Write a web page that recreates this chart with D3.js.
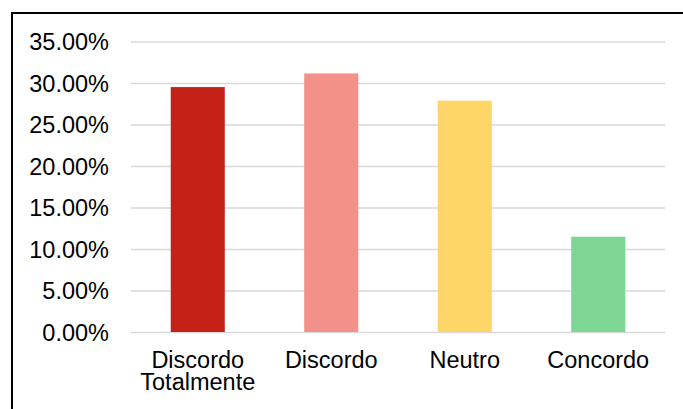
<!DOCTYPE html>
<html>
<head>
<meta charset="utf-8">
<script src="https://cdn.jsdelivr.net/npm/d3@7"></script>
<style>
  body { margin: 0; background: #fff; }
  svg { display: block; font-family: "Liberation Sans", Arial, sans-serif; }
</style>
</head>
<body>
<div id="chart"></div>
<script>
const categories = ["Discordo Totalmente", "Discordo", "Neutro", "Concordo"];
const values = [0.2951, 0.3115, 0.2787, 0.1148];
const colors = ["#c52217", "#f39089", "#fed668", "#7ed694"];
const yTicks = [0, 0.05, 0.10, 0.15, 0.20, 0.25, 0.30, 0.35];

const width = 683;
const height = 409;
const margin = { top: 41.5, right: 18, bottom: 77, left: 131 };
const innerWidth = width - margin.left - margin.right;
const innerHeight = height - margin.top - margin.bottom;

const svg = d3.select("#chart")
  .append("svg")
  .attr("width", width)
  .attr("height", height);

// chart frame (only left and top visible)
svg.append("rect")
  .attr("x", 12)
  .attr("y", 13)
  .attr("width", width)
  .attr("height", height)
  .attr("fill", "none")
  .attr("stroke", "#000")
  .attr("stroke-width", 2);

const g = svg.append("g")
  .attr("transform", `translate(${margin.left},${margin.top})`);

const x = d3.scaleBand()
  .domain(categories)
  .range([0, innerWidth])
  .paddingInner(0.595)
  .paddingOuter(0.2975);

const y = d3.scaleLinear()
  .domain([0, 0.35])
  .range([innerHeight, 0]);

// gridlines + y labels
const yAxis = g.append("g")
  .call(d3.axisLeft(y)
    .tickValues(yTicks)
    .tickSize(-innerWidth)
    .tickPadding(22)
    .tickFormat(d => (d * 100).toFixed(2) + "%"));
yAxis.select(".domain").remove();
yAxis.selectAll(".tick line")
  .attr("stroke", "#d9d9d9")
  .attr("stroke-width", 1.5);
yAxis.selectAll(".tick text")
  .attr("fill", "#000")
  .attr("font-size", 23.5)
  .attr("dy", "0.34em");

g.selectAll(".bar")
  .data(categories)
  .enter()
  .append("rect")
  .attr("class", "bar")
  .attr("x", d => x(d))
  .attr("y", (d, i) => y(values[i]))
  .attr("width", x.bandwidth())
  .attr("height", (d, i) => innerHeight - y(values[i]))
  .attr("fill", (d, i) => colors[i]);

// x labels
const xAxis = g.append("g")
  .attr("transform", `translate(0,${innerHeight})`)
  .call(d3.axisBottom(x).tickSize(0).tickFormat(""));
xAxis.select(".domain").remove();

xAxis.selectAll(".tick")
  .append("text")
  .attr("fill", "#000")
  .attr("font-size", 23.5)
  .attr("text-anchor", "middle")
  .each(function(d) {
    const words = d.split(" ");
    d3.select(this).selectAll("tspan")
      .data(words)
      .enter()
      .append("tspan")
      .attr("x", 0)
      .attr("y", (w, i) => 35.5 + i * 22.5)
      .text(w => w);
  });
</script>
</body>
</html>
